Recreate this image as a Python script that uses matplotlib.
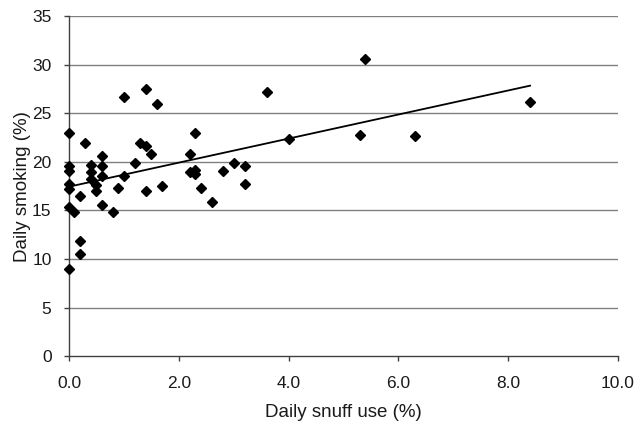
import matplotlib
matplotlib.use("Agg")
import matplotlib.pyplot as plt
import numpy as np

# daily snuff use (%) vs daily smoking (%)
snuff = [0.0, 0.0, 0.0, 0.0, 0.0, 0.0, 0.0, 0.1, 0.2, 0.2,
         0.2, 0.3, 0.4, 0.4, 0.4, 0.5, 0.5, 0.6, 0.6, 0.6,
         0.6, 0.8, 0.9, 1.0, 1.0, 1.2, 1.3, 1.4, 1.4, 1.4,
         1.5, 1.6, 1.7, 2.2, 2.2, 2.3, 2.3, 2.3, 2.4, 2.6,
         2.8, 3.0, 3.2, 3.2, 3.6, 4.0, 5.3, 5.4, 6.3, 8.4]
smoking = [23.0, 19.6, 19.1, 17.7, 17.2, 15.4, 9.0, 14.8, 16.5, 11.9,
           10.5, 21.9, 19.7, 19.0, 18.2, 17.6, 17.0, 20.6, 19.6, 18.5,
           15.6, 14.8, 17.3, 18.5, 26.7, 19.9, 21.9, 21.6, 27.5, 17.0,
           20.8, 26.0, 17.5, 20.8, 19.0, 23.0, 19.2, 18.7, 17.3, 15.9,
           19.1, 19.9, 19.6, 17.7, 27.2, 22.4, 22.8, 30.6, 22.7, 26.2]

x_ticks = [0, 2, 4, 6, 8, 10]
y_ticks = [0, 5, 10, 15, 20, 25, 30, 35]

plt.rcParams['font.family'] = ['Liberation Sans', 'DejaVu Sans']

fig = plt.figure(figsize=(6.36, 4.24), dpi=100)
ax = fig.add_axes([0.1085, 0.16, 0.863, 0.802])

ax.set_xlim(0, 10)
ax.set_ylim(0, 35)

# horizontal gridlines
for yv in y_ticks[1:]:
    ax.axhline(yv, color='#808080', linewidth=1.0, zorder=1)

ax.plot(snuff, smoking, linestyle='none', marker='D', markersize=5.5,
        color='black', zorder=3, clip_on=False)

# linear trend line
slope, intercept = np.polyfit(snuff, smoking, 1)
xl = np.array([0, max(snuff)])
ax.plot(xl, intercept + slope * xl, color='black', linewidth=1.3, zorder=2)

ax.set_xticks(x_ticks)
ax.set_xticklabels([f"{v:.1f}" for v in x_ticks])
ax.set_yticks(y_ticks)

for s in ['top', 'right']:
    ax.spines[s].set_visible(False)
for s in ['left', 'bottom']:
    ax.spines[s].set_color('#404040')
    ax.spines[s].set_linewidth(1.0)

ax.tick_params(direction='out', length=3.6, width=1, colors='#404040',
               labelcolor='#1a1a1a', labelsize=12.5)
ax.tick_params(axis='x', pad=11)
ax.tick_params(axis='y', pad=9)

ax.set_xlabel('Daily snuff use (%)', fontsize=13.5, labelpad=9, color='#1a1a1a')
ax.set_ylabel('Daily smoking (%)', fontsize=13.5, labelpad=0.5, color='#1a1a1a')

fig.savefig('out.png', dpi=100, facecolor='white')
